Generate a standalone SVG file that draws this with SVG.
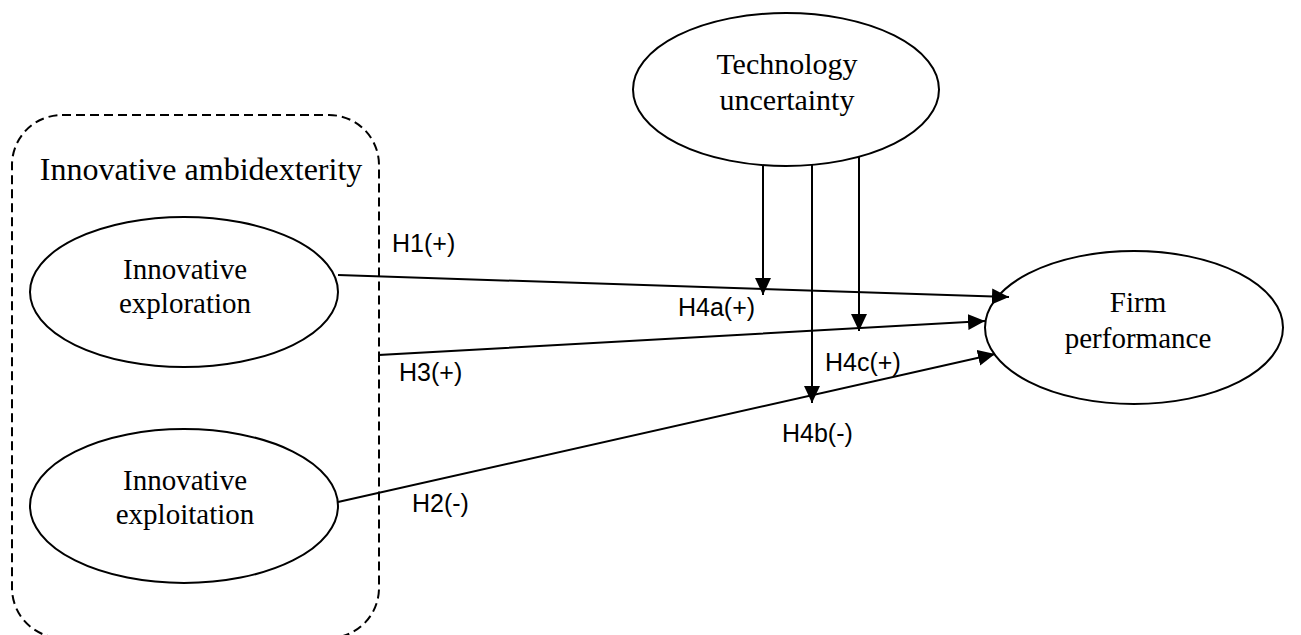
<svg xmlns="http://www.w3.org/2000/svg" width="1301" height="635" viewBox="0 0 1301 635">
  <style>
    .node { fill: #ffffff; stroke: #000000; stroke-width: 2; }
    .group { fill: none; stroke: #000000; stroke-width: 2; stroke-dasharray: 9 5; }
    .edge { fill: none; stroke: #000000; stroke-width: 2; }
    .title { font-family: "Liberation Serif", "Times New Roman", serif; font-size: 29px; fill: #000000; text-anchor: middle; }
    .label { font-family: "Liberation Sans", Arial, sans-serif; font-size: 25px; fill: #000000; }
  </style>
  <defs>
    <marker id="arrow" markerUnits="userSpaceOnUse" markerWidth="20" markerHeight="18" refX="17" refY="8" orient="auto">
      <path d="M0,0 L17,8 L0,16 Z" fill="#000000"/>
    </marker>
  </defs>

  <!-- dashed grouping frame -->
  <g id="ambidexterity">
    <rect class="group" x="12" y="115" width="367" height="523" rx="50" ry="50"/>
    <text class="title" x="201" y="180" style="font-size:32px">Innovative ambidexterity</text>
  </g>

  <g id="exploration">
    <ellipse class="node" cx="184" cy="292" rx="154" ry="75"/>
    <text class="title" x="185" y="279">Innovative</text>
    <text class="title" x="185" y="313">exploration</text>
  </g>

  <g id="exploitation">
    <ellipse class="node" cx="184" cy="506" rx="154" ry="77"/>
    <text class="title" x="185" y="490">Innovative</text>
    <text class="title" x="185" y="524">exploitation</text>
  </g>

  <g id="technology">
    <ellipse class="node" cx="786" cy="89.5" rx="153" ry="76.5"/>
    <text class="title" x="787" y="74" style="font-size:30px">Technology</text>
    <text class="title" x="787" y="110" style="font-size:30px">uncertainty</text>
  </g>

  <g id="performance">
    <ellipse class="node" cx="1134" cy="327.5" rx="149" ry="76.5"/>
    <text class="title" x="1138" y="312">Firm</text>
    <text class="title" x="1138" y="348">performance</text>
  </g>

  <!-- connectors -->
  <g id="connectors">
    <line class="edge" x1="338" y1="275" x2="1009" y2="297" marker-end="url(#arrow)"/>
    <polyline class="edge" points="379,362 379,355 985,321" marker-end="url(#arrow)"/>
    <line class="edge" x1="338" y1="502" x2="995" y2="354" marker-end="url(#arrow)"/>
    <line class="edge" x1="763" y1="165" x2="763" y2="295" marker-end="url(#arrow)"/>
    <line class="edge" x1="812" y1="164" x2="812" y2="403" marker-end="url(#arrow)"/>
    <line class="edge" x1="859" y1="157" x2="859" y2="331" marker-end="url(#arrow)"/>
  </g>

  <g id="labels">
    <text class="label" x="392" y="252">H1(+)</text>
    <text class="label" x="399" y="381">H3(+)</text>
    <text class="label" x="412" y="512">H2(-)</text>
    <text class="label" x="678" y="316">H4a(+)</text>
    <text class="label" x="825" y="371">H4c(+)</text>
    <text class="label" x="782" y="442">H4b(-)</text>
  </g>
</svg>
